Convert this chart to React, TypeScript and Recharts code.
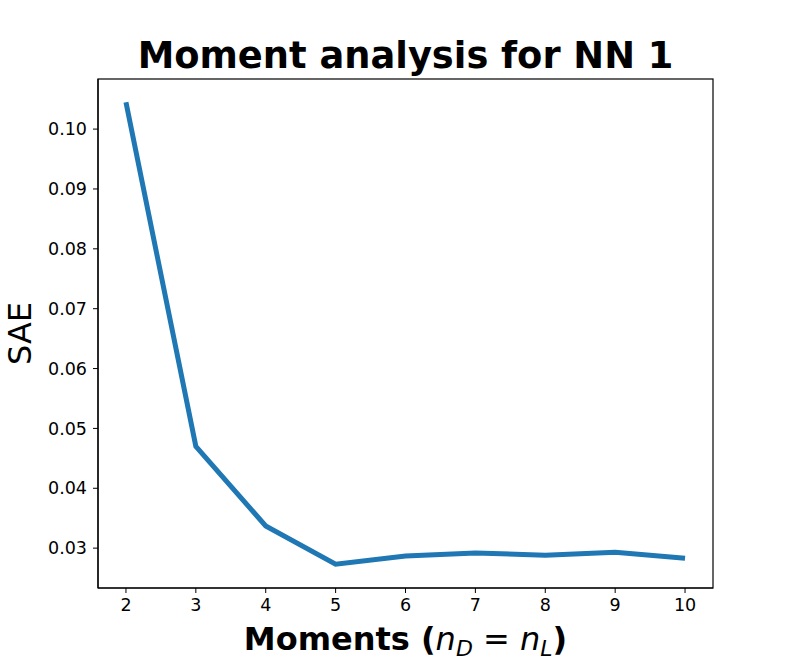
import { LineChart, Line, XAxis, YAxis } from "recharts";

const moments = [2, 3, 4, 5, 6, 7, 8, 9, 10];
const sae = [0.1045, 0.047, 0.0337, 0.0273, 0.0287, 0.0292, 0.0288, 0.0293, 0.0283];
const xTicks = [2, 3, 4, 5, 6, 7, 8, 9, 10];
const yTicks = [0.03, 0.04, 0.05, 0.06, 0.07, 0.08, 0.09, 0.1];

const data = moments.map((m, i) => ({ m, sae: sae[i] }));

const W = 793;
const H = 661;
// plot box
const L = 98, T = 79, R = 713, B = 588;

const tickStyle = { fill: "#000", fontSize: 17.5, fontFamily: "DejaVu Sans" };

export default function App() {
    return (
        <div style={{ position: "absolute", left: 0, top: 0, width: W, height: H, background: "#fff" }}>
            <LineChart
                width={W}
                height={H}
                data={data}
                margin={{ top: T, right: W - R, bottom: 0, left: 0 }}
            >
                <XAxis
                    dataKey="m"
                    type="number"
                    domain={[1.6, 10.4]}
                    ticks={xTicks}
                    height={H - B}
                    axisLine={{ stroke: "#000", strokeWidth: 1.2 }}
                    tickLine={{ stroke: "#000" }}
                    tickSize={5}
                    tick={tickStyle}
                    tickMargin={6}
                    interval={0}
                />
                <YAxis
                    type="number"
                    domain={[0.02334, 0.10837]}
                    ticks={yTicks}
                    width={L}
                    axisLine={{ stroke: "#000", strokeWidth: 1.2 }}
                    tickLine={{ stroke: "#000" }}
                    tickSize={5}
                    tick={tickStyle}
                    tickMargin={6}
                    tickFormatter={(v: number) => v.toFixed(2)}
                    interval={0}
                    allowDataOverflow
                />
                <Line
                    dataKey="sae"
                    stroke="#1f77b4"
                    strokeWidth={5}
                    dot={false}
                    isAnimationActive={false}
                />
            </LineChart>
            <svg
                width={W}
                height={H}
                style={{ position: "absolute", left: 0, top: 0, pointerEvents: "none" }}
                fontFamily="DejaVu Sans"
            >
                <rect x={L} y={T} width={R - L} height={B - T} fill="none" stroke="#000" strokeWidth={1.2} />
                <text x={(L + R) / 2} y={68} textAnchor="middle" fontSize={36.8} fontWeight="bold">
                    Moment analysis for NN 1
                </text>
                <text x={(L + R) / 2} y={650} textAnchor="middle" fontSize={32}>
                    <tspan fontWeight="bold">Moments (</tspan>
                    <tspan fontStyle="italic">n</tspan>
                    <tspan fontStyle="italic" fontSize={22} dy={6}>D</tspan>
                    <tspan dy={-6}> = </tspan>
                    <tspan fontStyle="italic">n</tspan>
                    <tspan fontStyle="italic" fontSize={22} dy={6}>L</tspan>
                    <tspan fontWeight="bold" dy={-6}>)</tspan>
                </text>
                <text
                    x={0}
                    y={0}
                    transform={`translate(31 ${(T + B) / 2}) rotate(-90)`}
                    textAnchor="middle"
                    fontSize={32}
                >
                    SAE
                </text>
            </svg>
        </div>
    );
}
